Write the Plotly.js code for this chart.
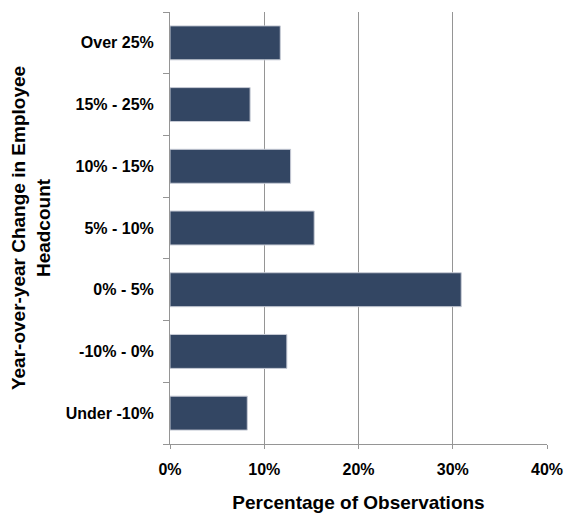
<!DOCTYPE html>
<html><head><meta charset="utf-8">
<script src="https://cdn.plot.ly/plotly-3.0.1.min.js"></script>
<style>html,body{margin:0;padding:0;background:#fff}#chart{width:568px;height:514px}</style>
</head><body><div id="chart"></div>
<script>
var categories = ["Under -10%", "-10% - 0%", "0% - 5%", "5% - 10%", "10% - 15%", "15% - 25%", "Over 25%"];
var values = [0.082, 0.124, 0.309, 0.153, 0.128, 0.085, 0.117];
var xTickVals = [0, 0.1, 0.2, 0.3, 0.4];
var xTickText = ["0%", "10%", "20%", "30%", "40%"];

var font = "'Liberation Sans Narrow', 'Arial Narrow', 'Liberation Sans', Arial, sans-serif";

Plotly.newPlot("chart", [{
  type: "bar",
  orientation: "h",
  y: categories,
  x: values,
  marker: {color: "#334663", line: {color: "#c8ccd6", width: 1}},
  hoverinfo: "none"
}], {
  width: 568, height: 514,
  margin: {l: 170, r: 21, t: 12, b: 70},
  paper_bgcolor: "#fff", plot_bgcolor: "#fff",
  bargap: 0.45,
  showlegend: false,
  font: {family: font, color: "#000"},
  xaxis: {
    range: [0, 0.4],
    tickvals: xTickVals, ticktext: xTickText,
    showgrid: true, gridcolor: "#959595", gridwidth: 1,
    showline: true, linecolor: "#959595", linewidth: 1,
    ticks: "outside", ticklen: 4, tickcolor: "#959595",
    ticklabelstandoff: 7,
    zeroline: false,
    tickfont: {size: 16, family: font, weight: "bold", color: "#000"},
    title: {text: "Percentage of Observations", standoff: 18,
      font: {size: 19, family: font, weight: "bold", color: "#000"}}
  },
  yaxis: {
    type: "category",
    categoryorder: "array", categoryarray: categories,
    showline: true, linecolor: "#959595", linewidth: 1,
    ticks: "outside", ticklen: 6, tickcolor: "#959595",
    tickson: "boundaries",
    showgrid: false, zeroline: false,
    ticklabelstandoff: 12,
    tickfont: {size: 16, family: font, weight: "bold", color: "#000"},
    title: {text: "Year-over-year Change in Employee<br>Headcount", standoff: 10,
      font: {size: 19, family: font, weight: "bold", color: "#000"}}
  }
}, {displayModeBar: false, staticPlot: true});
</script></body></html>
